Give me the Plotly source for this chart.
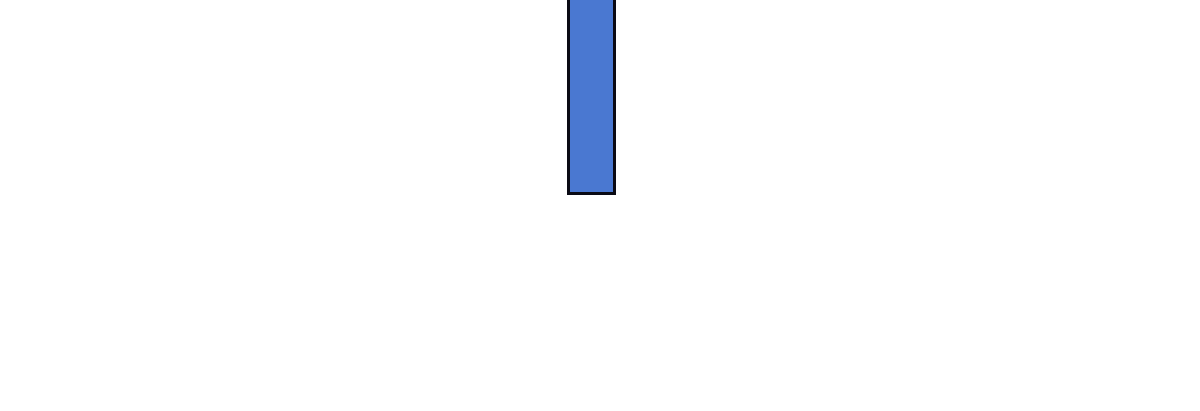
import plotly.graph_objects as go

# single bar, the top runs off the visible area
categories = [0]
values = [300]

fig = go.Figure()
fig.add_trace(go.Bar(x=categories, y=values, width=[1],
                     marker=dict(color='#4A78D1', line=dict(color='#0a0a14', width=3)),
                     showlegend=False, hoverinfo='skip'))

fig.update_layout(width=1200, height=411, margin=dict(l=0, r=0, t=0, b=0),
                  plot_bgcolor='white', paper_bgcolor='white', bargap=0)
fig.update_xaxes(range=[-12.87, 13.217], visible=False)
fig.update_yaxes(range=[-217, 194], visible=False)

fig.write_html("out.html", config={'displayModeBar': False},
               post_script="document.body.style.margin='0';")
